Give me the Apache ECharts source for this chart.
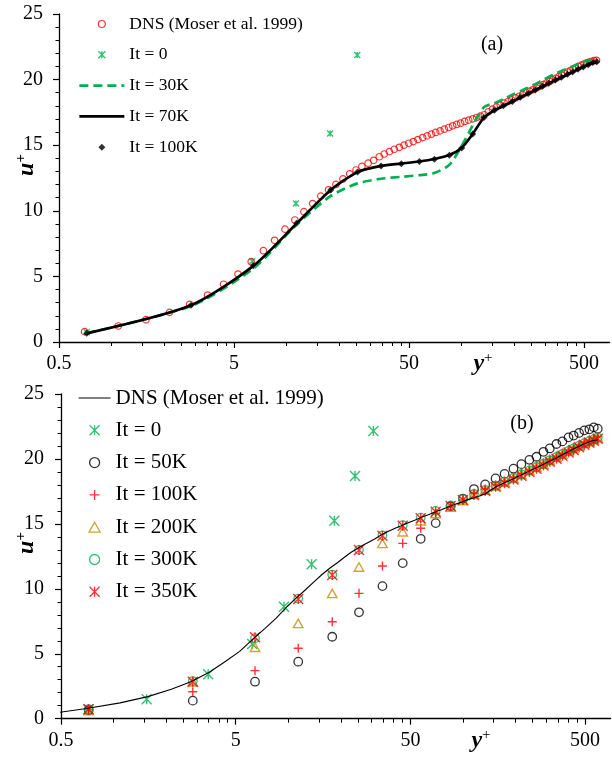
<!DOCTYPE html>
<html><head><meta charset="utf-8">
<script src="https://cdn.jsdelivr.net/npm/echarts@6/dist/echarts.min.js"></script>
<style>html,body{margin:0;padding:0;background:#fff}#c{width:612px;height:757px}</style>
</head><body><div id="c"></div>
<script>
// ---------- axis definitions ----------
const X_MIN = 0.5, X_MAX = 700;
const xMajorTicks = [0.5, 5, 50, 500];
const xTickLabels = ['0.5', '5', '50', '500'];
const xMinorTicks = [1, 1.5, 2, 2.5, 3, 3.5, 4, 4.5, 10, 15, 20, 25, 30, 35, 40, 45, 100, 150, 200, 250, 300, 350, 400, 450];
const Y_MIN = 0, Y_MAX = 25, Y_STEP = 5;

// ---------- DNS (Moser et al. 1999) ----------
const dnsYp = [0.39, 0.70, 1.09, 1.57, 2.14, 2.79, 3.53, 4.36, 5.27, 6.27, 7.36, 8.53, 9.78, 11.13, 12.55, 14.07, 15.66, 17.34, 19.11, 20.96, 22.9, 24.9, 26.9, 29.2, 31.4, 33.8, 36.1, 38.6, 41.2, 44.0, 46.8, 49.8, 52.9, 56.2, 59.8, 63.4, 67.1, 71.0, 75.2, 79.6, 84.3, 88.8, 93.6, 98.6, 104, 109.6, 115.6, 121.8, 127.9, 134.7, 142, 150, 158, 166, 175, 184, 193, 203, 213, 223, 234, 245, 256, 268, 280, 292, 305, 318, 331, 345, 359, 373, 388, 403, 418, 434, 450, 466, 483, 500, 517, 535, 553, 571, 589];
const dnsUp = [0.30, 0.79, 1.22, 1.70, 2.26, 2.87, 3.58, 4.40, 5.18, 6.12, 6.96, 7.75, 8.6, 9.3, 9.93, 10.55, 11.12, 11.6, 12.01, 12.43, 12.82, 13.11, 13.38, 13.63, 13.85, 14.12, 14.33, 14.51, 14.69, 14.84, 15.0, 15.15, 15.28, 15.43, 15.58, 15.71, 15.84, 15.97, 16.09, 16.22, 16.35, 16.48, 16.58, 16.68, 16.81, 16.91, 17.01, 17.11, 17.21, 17.32, 17.55, 17.75, 17.92, 18.06, 18.2, 18.33, 18.46, 18.6, 18.73, 18.86, 19.0, 19.12, 19.24, 19.37, 19.5, 19.62, 19.74, 19.86, 19.98, 20.1, 20.22, 20.34, 20.46, 20.58, 20.69, 20.8, 20.9, 21.0, 21.1, 21.19, 21.27, 21.34, 21.4, 21.44, 21.47];

// ---------- LES grid ----------
const lesYp = [0.72, 2.84, 6.45, 11.4, 17.85, 25.4, 34.6, 45.2, 57.3, 69.8, 85, 100, 115.6, 134, 153.7, 173, 194.6, 216, 240, 263.5, 289, 314, 343, 371, 402, 430, 462, 495, 529, 561, 591];

// ---------- panel (a) ----------
const a_it0_yp = [0.72, 6.35, 11.3, 17.7, 25.3];
const a_it0_up = [0.75, 6.15, 10.56, 15.9, 21.88];
const a_it30k = [0.68, 2.75, 5.6, 8.95, 11.13, 12.09, 12.44, 12.59, 12.72, 12.88, 13.5, 14.95, 16.5, 17.9, 18.2, 18.5, 18.85, 19.1, 19.4, 19.65, 19.95, 20.2, 20.45, 20.65, 20.85, 21.0, 21.2, 21.35, 21.45, 21.55, 21.6];
const a_it70k = [0.66, 2.8, 5.8, 9.03, 11.58, 12.95, 13.42, 13.6, 13.76, 13.95, 14.25, 14.8, 15.86, 17.1, 17.65, 18.0, 18.33, 18.64, 18.94, 19.2, 19.48, 19.71, 19.96, 20.17, 20.39, 20.57, 20.78, 20.95, 21.13, 21.29, 21.36];
const a_it100k = [0.66, 2.81, 5.81, 9.05, 11.58, 12.95, 13.41, 13.59, 13.75, 13.93, 14.23, 14.79, 15.86, 17.11, 17.67, 18.0, 18.34, 18.65, 18.95, 19.2, 19.49, 19.72, 19.97, 20.18, 20.4, 20.58, 20.79, 20.96, 21.14, 21.3, 21.37];

// ---------- panel (b) ----------
const b_it0_yp = [0.716, 1.547, 3.48, 6.22, 9.45, 13.6, 18.35, 24.1, 30.7];
const b_it0_up = [0.72, 1.49, 3.42, 5.75, 8.62, 11.89, 15.24, 18.68, 22.15];
const b_it50k = [0.65, 1.39, 2.85, 4.39, 6.31, 8.19, 10.21, 11.98, 13.85, 15.06, 16.35, 16.95, 17.68, 18.04, 18.5, 18.85, 19.25, 19.6, 19.93, 20.17, 20.55, 20.81, 21.15, 21.35, 21.66, 21.8, 22.0, 22.2, 22.28, 22.43, 22.33];
const b_it100k = [0.7, 2.08, 3.70, 5.42, 7.47, 9.65, 11.76, 13.5, 14.66, 15.8, 16.35, 16.85, 17.35, 17.68, 18.0, 18.3, 18.6, 18.88, 19.18, 19.45, 19.7, 19.98, 20.22, 20.45, 20.7, 20.9, 21.1, 21.3, 21.45, 21.6, 21.7];
const b_it200k = [0.62, 2.85, 5.5, 7.34, 9.65, 11.68, 13.5, 14.4, 15.24, 15.8, 16.3, 16.8, 17.28, 17.6, 17.93, 18.22, 18.52, 18.8, 19.1, 19.35, 19.6, 19.88, 20.12, 20.35, 20.6, 20.8, 21.0, 21.2, 21.35, 21.5, 21.62];
const b_it300k = [0.74, 2.9, 6.2, 9.25, 11.1, 13.0, 14.12, 14.9, 15.48, 16.0, 16.42, 16.9, 17.3, 17.62, 17.95, 18.25, 18.55, 18.82, 19.12, 19.38, 19.63, 19.9, 20.15, 20.38, 20.62, 20.82, 21.02, 21.22, 21.38, 21.52, 21.65];
const b_it350k = [0.72, 2.85, 6.27, 9.21, 11.06, 12.99, 14.09, 14.86, 15.43, 15.94, 16.37, 16.84, 17.22, 17.53, 17.86, 18.12, 18.42, 18.7, 19.0, 19.25, 19.5, 19.78, 20.02, 20.25, 20.5, 20.68, 20.9, 21.1, 21.25, 21.4, 21.55];

// ---------- helpers ----------
const lx = v => Math.log10(v / X_MIN);
const XMAXL = lx(X_MAX);
const pairs = (xs, ys) => xs.map((x, i) => [lx(x), ys[i]]);
const RED = '#FF0000', GREEN = '#00B050', GOLD = '#BF9000', BLACK = '#000000';
const NONE = 'rgba(0,0,0,0)';
const FONT = 'Liberation Serif';
const ASTER = 'path://M0,0L10,10M10,0L0,10M5,0L5,10';
const PLUS = 'path://M5,0L5,10M0,5L10,5';
const DIAMOND = 'path://M5,0L10,5L5,10L0,5Z';
const TRIANGLE = 'path://M5,0L10,9L0,9Z';

function xAxes(grid) {
  return [{
    type: 'value', gridIndex: grid, position: 'bottom', min: 0, max: XMAXL,
    axisLine: { onZero: false, lineStyle: { color: BLACK, width: 1.3 } },
    axisTick: { show: true, inside: false, length: 6, customValues: xMajorTicks.map(lx), lineStyle: { color: BLACK, width: 1.2 } },
    axisLabel: { customValues: xMajorTicks.map(lx), margin: 12, fontFamily: FONT, fontSize: 20, color: BLACK,
      formatter: v => { const i = xMajorTicks.findIndex(t => Math.abs(lx(t) - v) < 1e-6); return i >= 0 ? xTickLabels[i] : ''; } },
    splitLine: { show: false }
  }, {
    type: 'value', gridIndex: grid, position: 'bottom', min: 0, max: XMAXL,
    axisLine: { show: false },
    axisTick: { show: true, inside: false, length: 4, customValues: xMinorTicks.map(lx), lineStyle: { color: BLACK, width: 1 } },
    axisLabel: { show: false },
    splitLine: { show: false }
  }];
}
function yAxis(grid, margin) {
  return {
    type: 'value', gridIndex: grid, min: Y_MIN, max: Y_MAX, interval: Y_STEP,
    axisLine: { show: true, onZero: false, lineStyle: { color: BLACK, width: 1.3 } },
    axisTick: { show: true, inside: false, length: 6, lineStyle: { color: BLACK, width: 1.2 } },
    minorTick: { show: true, splitNumber: 5, length: 3.5, lineStyle: { color: BLACK, width: 1 } },
    axisLabel: { margin: margin, fontFamily: FONT, fontSize: 20, color: BLACK },
    splitLine: { show: false }, minorSplitLine: { show: false }
  };
}

const dnsScatter = dnsYp.map((x, i) => [x, dnsUp[i]]).filter(p => p[0] >= X_MIN);

const option = {
  animation: false,
  backgroundColor: '#fff',
  grid: [
    { left: 59, top: 14, width: 550.6, height: 328, containLabel: false, outerBoundsMode: 'none' },
    { left: 61, top: 394, width: 549.6, height: 324.7, containLabel: false, outerBoundsMode: 'none' }
  ],
  xAxis: [...xAxes(0), ...xAxes(1)],
  yAxis: [yAxis(0, 16), yAxis(1, 17)],
  legend: [{
    left: 78, top: 15, padding: 0, orient: 'vertical', itemWidth: 45, itemHeight: 7, itemGap: 12.8,
    selectedMode: false, symbolKeepAspect: true,
    textStyle: { fontFamily: FONT, fontSize: 17.5, lineHeight: 18, color: BLACK },
    data: [
      { name: 'DNS (Moser et al. 1999)', itemStyle: { color: NONE, borderColor: RED, borderWidth: 1.2 } },
      { name: 'It = 0', itemStyle: { color: NONE, borderColor: GREEN, borderWidth: 1.4 } },
      { name: 'It = 30K', itemStyle: { color: NONE, borderColor: NONE, borderWidth: 0 }, lineStyle: { color: GREEN, width: 2.7, type: [9, 5] } },
      { name: 'It = 70K', itemStyle: { color: NONE, borderColor: NONE, borderWidth: 0 }, lineStyle: { color: BLACK, width: 2.7, type: 'solid' } },
      { name: 'It = 100K', itemStyle: { color: BLACK, borderWidth: 0 } }
    ]
  }, {
    left: 78, top: 387, padding: 0, orient: 'vertical', itemWidth: 32, itemHeight: 10, itemGap: 10.3,
    selectedMode: false, symbolKeepAspect: true,
    formatter: n => n.replace(/^b:/, ''),
    textStyle: { fontFamily: FONT, fontSize: 21, lineHeight: 22, color: BLACK },
    data: [
      { name: 'b:DNS (Moser et al. 1999)', itemStyle: { color: NONE, borderColor: NONE, borderWidth: 0 }, lineStyle: { color: BLACK, width: 1.2, type: 'solid' } },
      { name: 'b:It = 0', itemStyle: { color: NONE, borderColor: GREEN, borderWidth: 1.3 } },
      { name: 'b:It = 50K', itemStyle: { color: NONE, borderColor: BLACK, borderWidth: 1.3 } },
      { name: 'b:It = 100K', itemStyle: { color: NONE, borderColor: RED, borderWidth: 1.3 } },
      { name: 'b:It = 200K', itemStyle: { color: NONE, borderColor: GOLD, borderWidth: 1.3 } },
      { name: 'b:It = 300K', itemStyle: { color: NONE, borderColor: GREEN, borderWidth: 1.3 } },
      { name: 'b:It = 350K', itemStyle: { color: NONE, borderColor: RED, borderWidth: 1.3 } }
    ]
  }],
  series: [
    // ----- panel (a) -----
    { name: 'It = 30K', type: 'line', xAxisIndex: 0, yAxisIndex: 0, data: pairs(lesYp, a_it30k), symbol: 'none', smooth: 0.25,
      lineStyle: { color: GREEN, width: 2.7, type: [9, 5] }, itemStyle: { color: GREEN } },
    { name: 'It = 0', type: 'scatter', xAxisIndex: 0, yAxisIndex: 0, data: pairs(a_it0_yp, a_it0_up), symbol: ASTER, symbolSize: 6, symbolKeepAspect: true,
      itemStyle: { color: NONE, borderColor: GREEN, borderWidth: 1.4 } },
    { name: 'DNS (Moser et al. 1999)', type: 'scatter', xAxisIndex: 0, yAxisIndex: 0, data: dnsScatter.map(p => [lx(p[0]), p[1]]), symbol: 'circle', symbolSize: 6.5,
      itemStyle: { color: NONE, borderColor: RED, borderWidth: 1.2 } },
    { name: 'It = 70K', type: 'line', xAxisIndex: 0, yAxisIndex: 0, data: pairs(lesYp, a_it70k), symbol: 'none', smooth: 0.25,
      lineStyle: { color: BLACK, width: 2.7 }, itemStyle: { color: BLACK } },
    { name: 'It = 100K', type: 'scatter', xAxisIndex: 0, yAxisIndex: 0, data: pairs(lesYp, a_it100k), symbol: DIAMOND, symbolSize: 7, symbolKeepAspect: true,
      itemStyle: { color: BLACK } },
    // ----- panel (b) -----
    { name: 'b:DNS (Moser et al. 1999)', type: 'line', xAxisIndex: 2, yAxisIndex: 1, data: pairs(dnsYp, dnsUp), symbol: 'none', clip: true,
      lineStyle: { color: BLACK, width: 1.1 }, itemStyle: { color: BLACK } },
    { name: 'b:It = 0', type: 'scatter', xAxisIndex: 2, yAxisIndex: 1, data: pairs(b_it0_yp, b_it0_up), symbol: ASTER, symbolSize: 10, symbolKeepAspect: true,
      itemStyle: { color: NONE, borderColor: GREEN, borderWidth: 1.4 } },
    { name: 'b:It = 50K', type: 'scatter', xAxisIndex: 2, yAxisIndex: 1, data: pairs(lesYp, b_it50k), symbol: 'circle', symbolSize: 8.5,
      itemStyle: { color: NONE, borderColor: BLACK, borderWidth: 1.3 } },
    { name: 'b:It = 100K', type: 'scatter', xAxisIndex: 2, yAxisIndex: 1, data: pairs(lesYp, b_it100k), symbol: PLUS, symbolSize: 9, symbolKeepAspect: true,
      itemStyle: { color: NONE, borderColor: RED, borderWidth: 1.4 } },
    { name: 'b:It = 200K', type: 'scatter', xAxisIndex: 2, yAxisIndex: 1, data: pairs(lesYp, b_it200k), symbol: TRIANGLE, symbolSize: 9.5, symbolKeepAspect: true,
      itemStyle: { color: NONE, borderColor: GOLD, borderWidth: 1.4 } },
    { name: 'b:It = 300K', type: 'scatter', xAxisIndex: 2, yAxisIndex: 1, data: pairs(lesYp, b_it300k), symbol: 'circle', symbolSize: 8.5,
      itemStyle: { color: NONE, borderColor: GREEN, borderWidth: 1.3 } },
    { name: 'b:It = 350K', type: 'scatter', xAxisIndex: 2, yAxisIndex: 1, data: pairs(lesYp, b_it350k), symbol: ASTER, symbolSize: 10, symbolKeepAspect: true,
      itemStyle: { color: NONE, borderColor: RED, borderWidth: 1.4 } }
  ],
  graphic: [
    { type: 'text', x: 27, y: 165, rotation: Math.PI / 2,
      style: { text: '{a|u}{b|+}', align: 'center', verticalAlign: 'middle', fill: BLACK,
        rich: { a: { fontFamily: FONT, fontWeight: 'bold', fontStyle: 'italic', fontSize: 24, lineHeight: 26 },
                b: { fontFamily: FONT, fontWeight: 'bold', fontSize: 15, lineHeight: 15, verticalAlign: 'top' } } } },
    { type: 'text', x: 27, y: 543, rotation: Math.PI / 2,
      style: { text: '{a|u}{b|+}', align: 'center', verticalAlign: 'middle', fill: BLACK,
        rich: { a: { fontFamily: FONT, fontWeight: 'bold', fontStyle: 'italic', fontSize: 24, lineHeight: 26 },
                b: { fontFamily: FONT, fontWeight: 'bold', fontSize: 15, lineHeight: 15, verticalAlign: 'top' } } } },
    { type: 'text', x: 483, y: 364,
      style: { text: '{a|y}{b|+}', align: 'center', verticalAlign: 'middle', fill: BLACK,
        rich: { a: { fontFamily: FONT, fontWeight: 'bold', fontStyle: 'italic', fontSize: 24, lineHeight: 26 },
                b: { fontFamily: FONT, fontSize: 15, lineHeight: 15, verticalAlign: 'top' } } } },
    { type: 'text', x: 481, y: 741,
      style: { text: '{a|y}{b|+}', align: 'center', verticalAlign: 'middle', fill: BLACK,
        rich: { a: { fontFamily: FONT, fontWeight: 'bold', fontStyle: 'italic', fontSize: 24, lineHeight: 26 },
                b: { fontFamily: FONT, fontSize: 15, lineHeight: 15, verticalAlign: 'top' } } } },
    { type: 'text', x: 492, y: 45, style: { text: '(a)', align: 'center', verticalAlign: 'middle', fill: BLACK, fontFamily: FONT, fontSize: 20 } },
    { type: 'text', x: 522, y: 424, style: { text: '(b)', align: 'center', verticalAlign: 'middle', fill: BLACK, fontFamily: FONT, fontSize: 20 } }
  ]
};
const chart = echarts.init(document.getElementById('c'), null, { renderer: 'canvas' });
chart.setOption(option);
</script>
</body></html>
